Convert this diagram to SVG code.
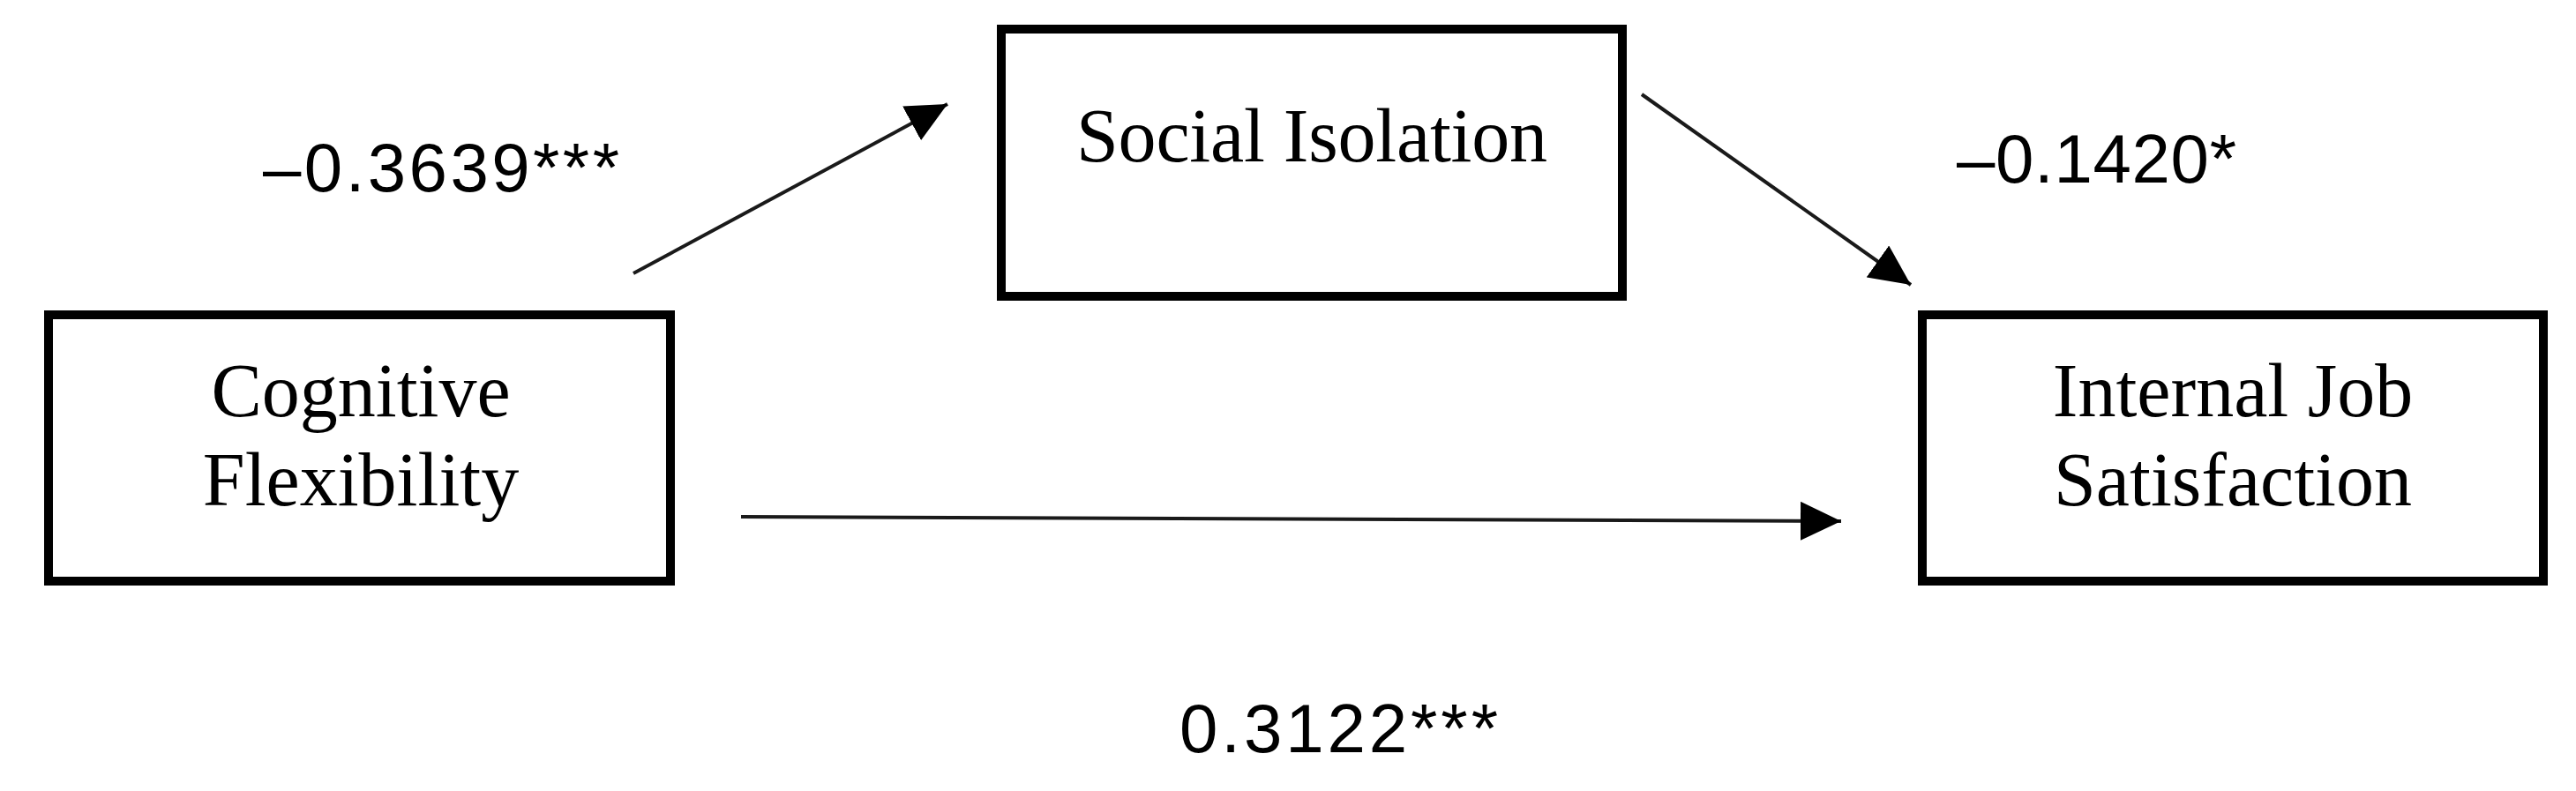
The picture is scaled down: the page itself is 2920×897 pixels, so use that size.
<svg xmlns="http://www.w3.org/2000/svg" width="2920" height="897" viewBox="0 0 2920 897">
<style>
.box{fill:#fff;stroke:#000;stroke-width:10}
.node{font-family:"Liberation Serif","Times New Roman",serif;font-size:86px;fill:#000;text-anchor:middle}
.lbl{font-family:"Liberation Sans",Arial,sans-serif;font-size:78px;fill:#000}
.edge{stroke:#1a1a1a;stroke-width:4;fill:none;marker-end:url(#ah)}
</style>
<defs>
<marker id="ah" markerUnits="userSpaceOnUse" markerWidth="48" markerHeight="44" refX="46" refY="22" orient="auto">
<path d="M0,0 L46,22 L0,44 Z" fill="#000"/>
</marker>
</defs>
<rect width="2920" height="897" fill="#fff"/>
<g id="edges">
<line class="edge" x1="718" y1="310" x2="1074" y2="118"/>
<line class="edge" x1="1861" y1="107" x2="2166" y2="323"/>
<line class="edge" x1="840" y1="586" x2="2087" y2="591"/>
</g>
<g id="social-isolation">
<rect class="box" x="1135" y="33" width="704" height="303"/>
<text class="node" x="1487" y="183" textLength="534">Social Isolation</text>
</g>
<g id="cognitive-flexibility">
<rect class="box" x="55" y="357" width="705" height="302"/>
<text class="node" x="409" y="472">Cognitive</text>
<text class="node" x="409" y="573">Flexibility</text>
</g>
<g id="internal-job-satisfaction">
<rect class="box" x="2179" y="357" width="704" height="302"/>
<text class="node" x="2531" y="472">Internal Job</text>
<text class="node" x="2531" y="573">Satisfaction</text>
</g>
<g id="labels">
<text class="lbl" x="298" y="217" textLength="404">–0.3639***</text>
<text class="lbl" x="2218" y="207" textLength="317">–0.1420*</text>
<text class="lbl" x="1337" y="853" textLength="361">0.3122***</text>
</g>
</svg>
